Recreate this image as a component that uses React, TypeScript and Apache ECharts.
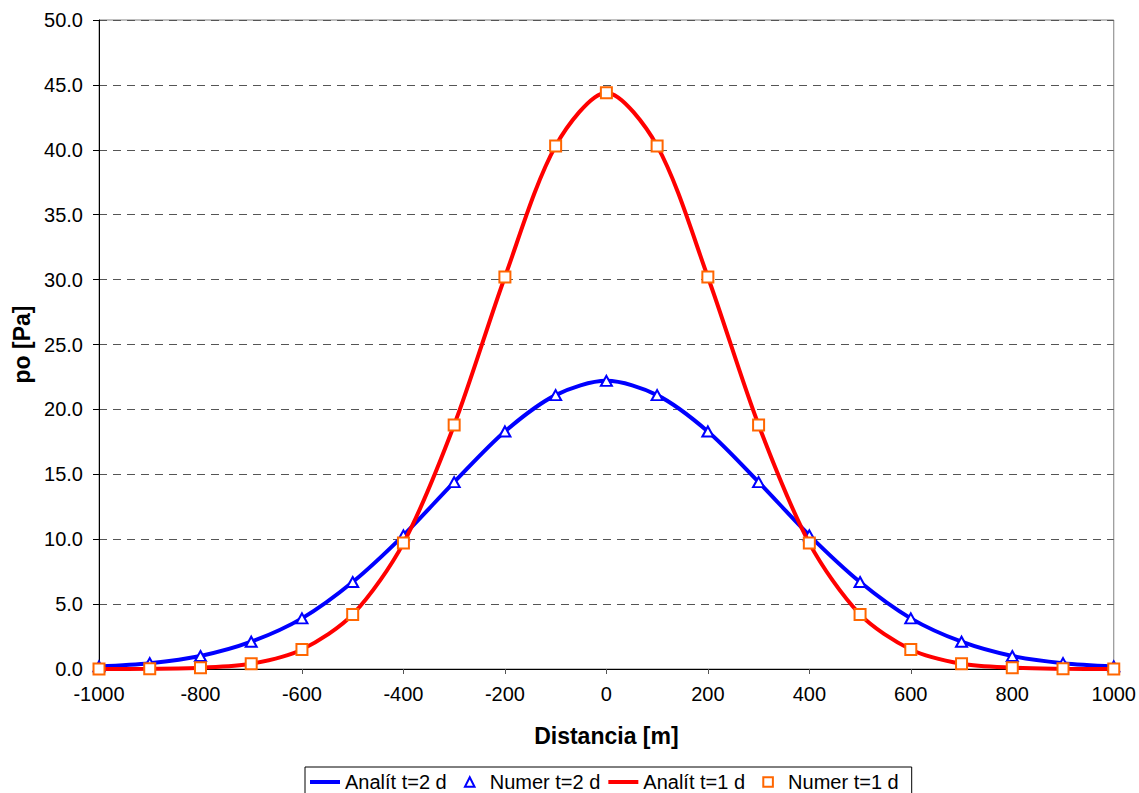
import React, { useEffect, useRef } from "react";
import * as echarts from "echarts";

const distances = [-1000, -900, -800, -700, -600, -500, -400, -300, -200, -100, 0, 100, 200, 300, 400, 500, 600, 700, 800, 900, 1000];
const valuesT2 = [0.2, 0.45, 1.0, 2.1, 3.9, 6.7, 10.3, 14.4, 18.3, 21.1, 22.2, 21.1, 18.3, 14.4, 10.3, 6.7, 3.9, 2.1, 1.0, 0.45, 0.2];
const valuesT1 = [0.0, 0.02, 0.1, 0.4, 1.5, 4.2, 9.7, 18.8, 30.2, 40.3, 44.4, 40.3, 30.2, 18.8, 9.7, 4.2, 1.5, 0.4, 0.1, 0.02, 0.0];
const seriesNames = ["Analít t=2 d", "Numer t=2 d", "Analít t=1 d", "Numer t=1 d"];

const FONT = "'Liberation Sans', Arial, sans-serif";

export default function App() {
  const ref = useRef<HTMLDivElement>(null);
  useEffect(() => {
    if (!ref.current) return;
    const chart = echarts.init(ref.current, undefined, { renderer: "svg" });
    const pairs = (vals: number[]) => distances.map((d, i) => [d, vals[i]]);
    const lineIcon = "path://M0,0H30V4H0Z";
    chart.setOption({
      animation: false,
      backgroundColor: "#fff",
      textStyle: { fontFamily: FONT },
      grid: {
        left: 99, right: 23, top: 20, bottom: 124,
        show: true, borderColor: "#808080", borderWidth: 1, backgroundColor: "transparent",
      },
      xAxis: {
        type: "value", min: -1000, max: 1000, interval: 200,
        name: "Distancia [m]", nameLocation: "middle", nameGap: 55,
        nameTextStyle: { fontSize: 23, fontWeight: "bold", color: "#000", fontFamily: FONT },
        axisLine: { show: true, onZero: false, lineStyle: { color: "#000", width: 1 } },
        axisTick: { show: true, length: 5, lineStyle: { color: "#555" } },
        axisLabel: { fontSize: 20, color: "#000", margin: 15, fontFamily: FONT, formatter: (v: number) => String(v) },
        splitLine: { show: false },
      },
      yAxis: {
        type: "value", min: 0, max: 50, interval: 5,
        name: "po [Pa]", nameLocation: "middle", nameGap: 66,
        nameTextStyle: { fontSize: 23, fontWeight: "bold", color: "#000", fontFamily: FONT },
        axisLine: { show: true, onZero: false, lineStyle: { color: "#000", width: 1 } },
        axisTick: { show: true, length: 6, lineStyle: { color: "#000" } },
        axisLabel: { fontSize: 20, color: "#000", margin: 16, fontFamily: FONT, formatter: (v: number) => v.toFixed(1) },
        splitLine: { show: true, lineStyle: { color: "#555", type: [8, 6], width: 1 } },
      },
      legend: {
        left: 305, top: 767,
        orient: "horizontal",
        padding: [5, 13, 5, 5],
        itemGap: 8, itemWidth: 30, itemHeight: 12,
        borderColor: "#000", borderWidth: 1, backgroundColor: "#fff",
        textStyle: { fontSize: 20, color: "#000", fontFamily: FONT },
        data: [
          { name: seriesNames[0], icon: lineIcon },
          { name: seriesNames[1] },
          { name: seriesNames[2], icon: lineIcon },
          { name: seriesNames[3] },
        ],
      },
      series: [
        {
          name: seriesNames[0], type: "line", data: pairs(valuesT2), smooth: 0.3,
          showSymbol: false, symbol: "none", color: "#0000FF",
          lineStyle: { color: "#0000FF", width: 4 }, z: 2,
        },
        {
          name: seriesNames[1], type: "line", data: pairs(valuesT2),
          symbol: "emptyTriangle", symbolSize: [11, 10], color: "#0000FF",
          itemStyle: { color: "#0000FF", borderWidth: 1.3 },
          lineStyle: { opacity: 0, width: 0 }, z: 3,
        },
        {
          name: seriesNames[2], type: "line", data: pairs(valuesT1), smooth: 0.3,
          showSymbol: false, symbol: "none", color: "#FF0000",
          lineStyle: { color: "#FF0000", width: 4 }, z: 4,
        },
        {
          name: seriesNames[3], type: "line", data: pairs(valuesT1),
          symbol: "emptyRect", symbolSize: 11, color: "#FF6600",
          itemStyle: { color: "#FF6600", borderWidth: 1.5 },
          lineStyle: { opacity: 0, width: 0 }, z: 5,
        },
      ],
    });
    return () => chart.dispose();
  }, []);
  return (
    <div
      ref={ref}
      style={{ position: "fixed", left: 0, top: 0, width: 1139, height: 793, background: "#fff" }}
    />
  );
}
